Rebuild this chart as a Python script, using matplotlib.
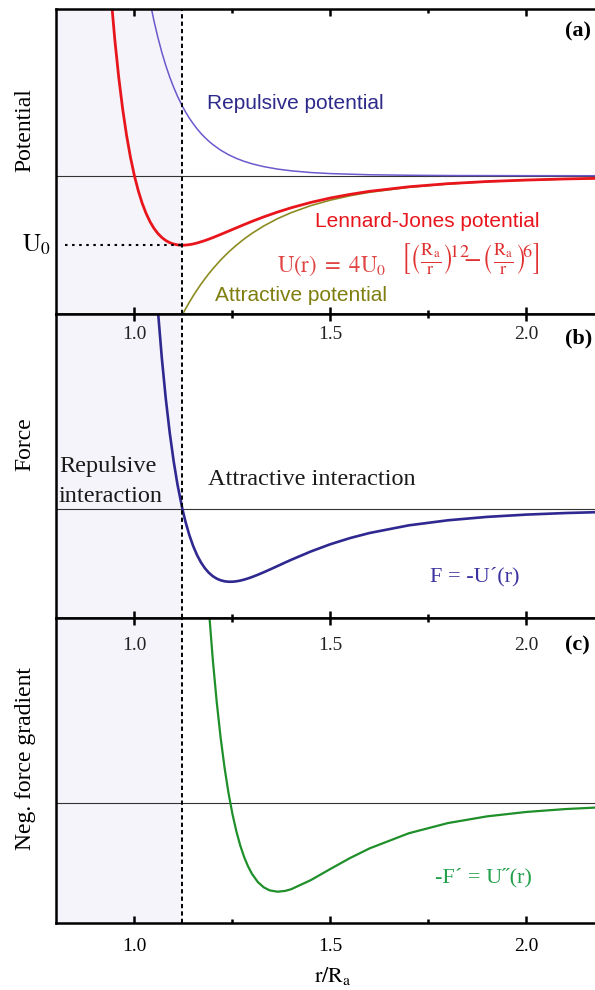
import matplotlib
matplotlib.use("Agg")
import matplotlib.pyplot as plt
import matplotlib.transforms as mtransforms

plt.rcParams['font.family'] = ['Liberation Serif', 'DejaVu Serif']
plt.rcParams['mathtext.fontset'] = 'stix'

# ---------------- data (units: U0, Ra) ----------------
r_pot = [0.94, 0.95, 0.96, 0.97, 0.98, 0.99, 1.00, 1.01, 1.02, 1.03, 1.04, 1.05,
         1.06, 1.07, 1.08, 1.09, 1.10, 1.11, 1.1225, 1.13, 1.14, 1.15, 1.16, 1.18,
         1.20, 1.22, 1.25, 1.28, 1.30, 1.33, 1.365, 1.40, 1.45, 1.50, 1.55, 1.60,
         1.70, 1.80, 1.90, 2.00, 2.10, 2.20]
lj_pot = [2.607, 1.961, 1.418, 0.963, 0.582, 0.264, 0.000, -0.218, -0.398, -0.544,
          -0.663, -0.758, -0.832, -0.889, -0.932, -0.963, -0.983, -0.995, -1.000,
          -0.998, -0.992, -0.982, -0.968, -0.933, -0.891, -0.845, -0.774, -0.703,
          -0.657, -0.592, -0.523, -0.461, -0.384, -0.320, -0.268, -0.224, -0.159,
          -0.114, -0.083, -0.062, -0.046, -0.035]

r_rep = [1.04, 1.05, 1.06, 1.07, 1.08, 1.09, 1.10, 1.11, 1.1225, 1.13, 1.14, 1.15,
         1.16, 1.17, 1.18, 1.19, 1.20, 1.22, 1.24, 1.26, 1.28, 1.30, 1.33, 1.365,
         1.40, 1.45, 1.50, 1.60, 1.70, 1.80, 2.00, 2.20]
rep_pot = [2.498, 2.227, 1.988, 1.776, 1.588, 1.422, 1.275, 1.143, 1.000, 0.923,
           0.830, 0.748, 0.674, 0.608, 0.549, 0.496, 0.449, 0.368, 0.303, 0.250,
           0.207, 0.172, 0.131, 0.096, 0.071, 0.046, 0.031, 0.014, 0.007, 0.003,
           0.001, 0.000]

r_att = [1.1225, 1.13, 1.14, 1.15, 1.16, 1.17, 1.18, 1.19, 1.20, 1.22, 1.24, 1.26,
         1.28, 1.30, 1.33, 1.365, 1.40, 1.45, 1.50, 1.55, 1.60, 1.70, 1.80, 1.90,
         2.00, 2.10, 2.20]
att_pot = [-2.000, -1.921, -1.822, -1.729, -1.642, -1.559, -1.482, -1.409, -1.340,
           -1.213, -1.100, -1.000, -0.910, -0.829, -0.723, -0.618, -0.531, -0.430,
           -0.351, -0.288, -0.238, -0.166, -0.118, -0.085, -0.063, -0.047, -0.035]

r_force = [1.06, 1.07, 1.08, 1.09, 1.10, 1.11, 1.1225, 1.13, 1.14, 1.15, 1.16, 1.17,
           1.18, 1.19, 1.20, 1.21, 1.22, 1.23, 1.24, 1.25, 1.26, 1.27, 1.28, 1.29,
           1.30, 1.315, 1.33, 1.345, 1.365, 1.385, 1.40, 1.45, 1.50, 1.55, 1.60,
           1.70, 1.80, 1.90, 2.00, 2.10, 2.20]
force = [6.543, 4.972, 3.646, 2.528, 1.588, 0.801, 0.000, -0.402, -0.852, -1.221,
         -1.521, -1.762, -1.952, -2.100, -2.212, -2.292, -2.347, -2.380, -2.395,
         -2.394, -2.381, -2.357, -2.325, -2.285, -2.240, -2.164, -2.082, -1.996,
         -1.878, -1.759, -1.672, -1.398, -1.158, -0.956, -0.788, -0.536, -0.369,
         -0.257, -0.182, -0.130, -0.095]

r_grad = [1.19, 1.20, 1.21, 1.22, 1.23, 1.24, 1.25, 1.26, 1.27, 1.28, 1.29, 1.30,
          1.315, 1.33, 1.345, 1.365, 1.385, 1.40, 1.45, 1.50, 1.55, 1.60, 1.70,
          1.80, 1.90, 2.00, 2.10, 2.20]
neg_grad = [12.866, 9.530, 6.709, 4.329, 2.328, 0.654, -0.742, -1.898, -2.850,
            -3.625, -4.249, -4.747, -5.293, -5.644, -5.845, -5.935, -5.879, -5.768,
            -5.162, -4.418, -3.692, -3.046, -2.038, -1.358, -0.911, -0.618, -0.425,
            -0.296]

r_min = 1.1225
x_ticks = [1.0, 1.5, 2.0]
x_tick_labels = ["1.0", "1.5", "2.0"]
x_minor = [1.25, 1.75]

# ---------------- figure ----------------
W, H = 595, 990
fig = plt.figure(figsize=(W / 100, H / 100), dpi=100)


def fx(x):
    return x / W


def fy(y):
    return 1 - y / H


left = fx(56)
width = 548.8 / W
panels = [(9, 314, (-1.99, 2.40)), (314, 618, (-3.59, 6.43)), (618, 923, (-8.02, 12.31))]
axes = []
for top, bot, yl in panels:
    ax = fig.add_axes([left, fy(bot), width, (bot - top) / H])
    ax.set_xlim(0.8, 2.2)
    ax.set_ylim(*yl)
    ax.axvspan(0.8, r_min, color='#f4f4fa', zorder=0, lw=0)
    ax.axhline(0, color='#333333', lw=0.8, zorder=1)
    ax.axvline(r_min, color='black', lw=1.4, ls=(0, (2.2, 1.6)), zorder=3)
    ax.set_xticks(x_ticks)
    ax.set_xticks(x_minor, minor=True)
    ax.set_yticks([])
    ax.tick_params(which='both', direction='in', top=True, bottom=True,
                   left=False, right=False, labelbottom=False, width=1.8)
    ax.tick_params(which='major', length=5)
    ax.tick_params(which='minor', length=3)
    for s in ax.spines.values():
        s.set_linewidth(1.8)
    axes.append(ax)

ax_a, ax_b, ax_c = axes

# panel (a)
ax_a.plot(r_rep, rep_pot, color='#6a5acd', lw=1.1, zorder=2)
ax_a.plot(r_att, att_pot, color='#8c8c23', lw=1.2, zorder=2)
ax_a.plot(r_pot, lj_pot, color='#e8161c', lw=2.0, zorder=2)
ax_a.plot([0.823, r_min], [-1, -1], color='black', lw=1.5, ls=(0, (1.2, 2.2)), zorder=3)

# panel (b)
ax_b.plot(r_force, force, color='#2f2890', lw=1.9, zorder=2)

# panel (c)
ax_c.plot(r_grad, neg_grad, color='#1f8f2a', lw=1.6, zorder=2)
ax_c.tick_params(labelbottom=True, pad=11, labelsize=14)
ax_c.set_xticklabels(x_tick_labels)

# tick labels drawn inside panels b and c
for ax, base in ((ax_b, 339), (ax_c, 650.5)):
    tr = mtransforms.blended_transform_factory(ax.transData, fig.transFigure)
    for xv, lab in zip(x_ticks, x_tick_labels):
        ax.text(xv, fy(base), lab, transform=tr, ha='center', va='baseline',
                fontsize=14, color='#222222')

# y labels
fig.text(fx(25), fy(130), 'Potential', rotation=90, ha='center', va='center', fontsize=17)
fig.text(fx(25), fy(444), 'Force', rotation=90, ha='center', va='center', fontsize=17)
fig.text(fx(25), fy(759), 'Neg. force gradient', rotation=90, ha='center', va='center', fontsize=17)
fig.text(fx(22), fy(245), r'$\mathrm{U_0}$', ha='left', va='center', fontsize=18)

# x label
fig.text(fx(333), fy(976), r'$\mathrm{r/R_a}$', ha='center', va='center', fontsize=16)

# panel letters
for lab, base in (('(a)', 36), ('(b)', 343), ('(c)', 650)):
    fig.text(fx(565), fy(base), lab, ha='left', va='baseline', fontsize=16, fontweight='bold')

# annotations panel a
sans = ['Liberation Sans', 'DejaVu Sans']
fig.text(fx(207), fy(109), 'Repulsive potential', family=sans, fontsize=15,
         color='#2e2a8a', va='baseline')
fig.text(fx(315), fy(227), 'Lennard-Jones potential', family=sans, fontsize=15,
         color='#e8161c', va='baseline')
fig.text(fx(215), fy(301), 'Attractive potential', family=sans, fontsize=15,
         color='#7f7f10', va='baseline')
fig.text(fx(277), fy(271.5), r'$\mathrm{U(r)\ =\ 4U_0}$', fontsize=16.3,
         color='#e04444', va='baseline')
fig.text(fx(400), fy(258), r'$\left[\left(\frac{\mathrm{R_a}}{\mathrm{r}}\right)^{\!\!12}\!\!\!-\!\left(\frac{\mathrm{R_a}}{\mathrm{r}}\right)^{\!\!6}\right]$',
         fontsize=18.5, color='#e03030', va='center')

# annotations panel b
fig.text(fx(59), fy(472), 'Repulsive', fontsize=17.5, color='#1a1a1a', va='baseline')
fig.text(fx(59), fy(502), 'interaction', fontsize=17.5, color='#1a1a1a', va='baseline')
fig.text(fx(208), fy(485), 'Attractive interaction', fontsize=17.5, color='#1a1a1a', va='baseline')
fig.text(fx(430), fy(581), 'F = -U\u00b4(r)', fontsize=16, color='#3b33a0', va='baseline')

# annotation panel c
fig.text(fx(435), fy(882), '-F\u00b4 = U\u02dd(r)', fontsize=16, color='#22a04a', va='baseline')

fig.savefig('out.png', dpi=100)
